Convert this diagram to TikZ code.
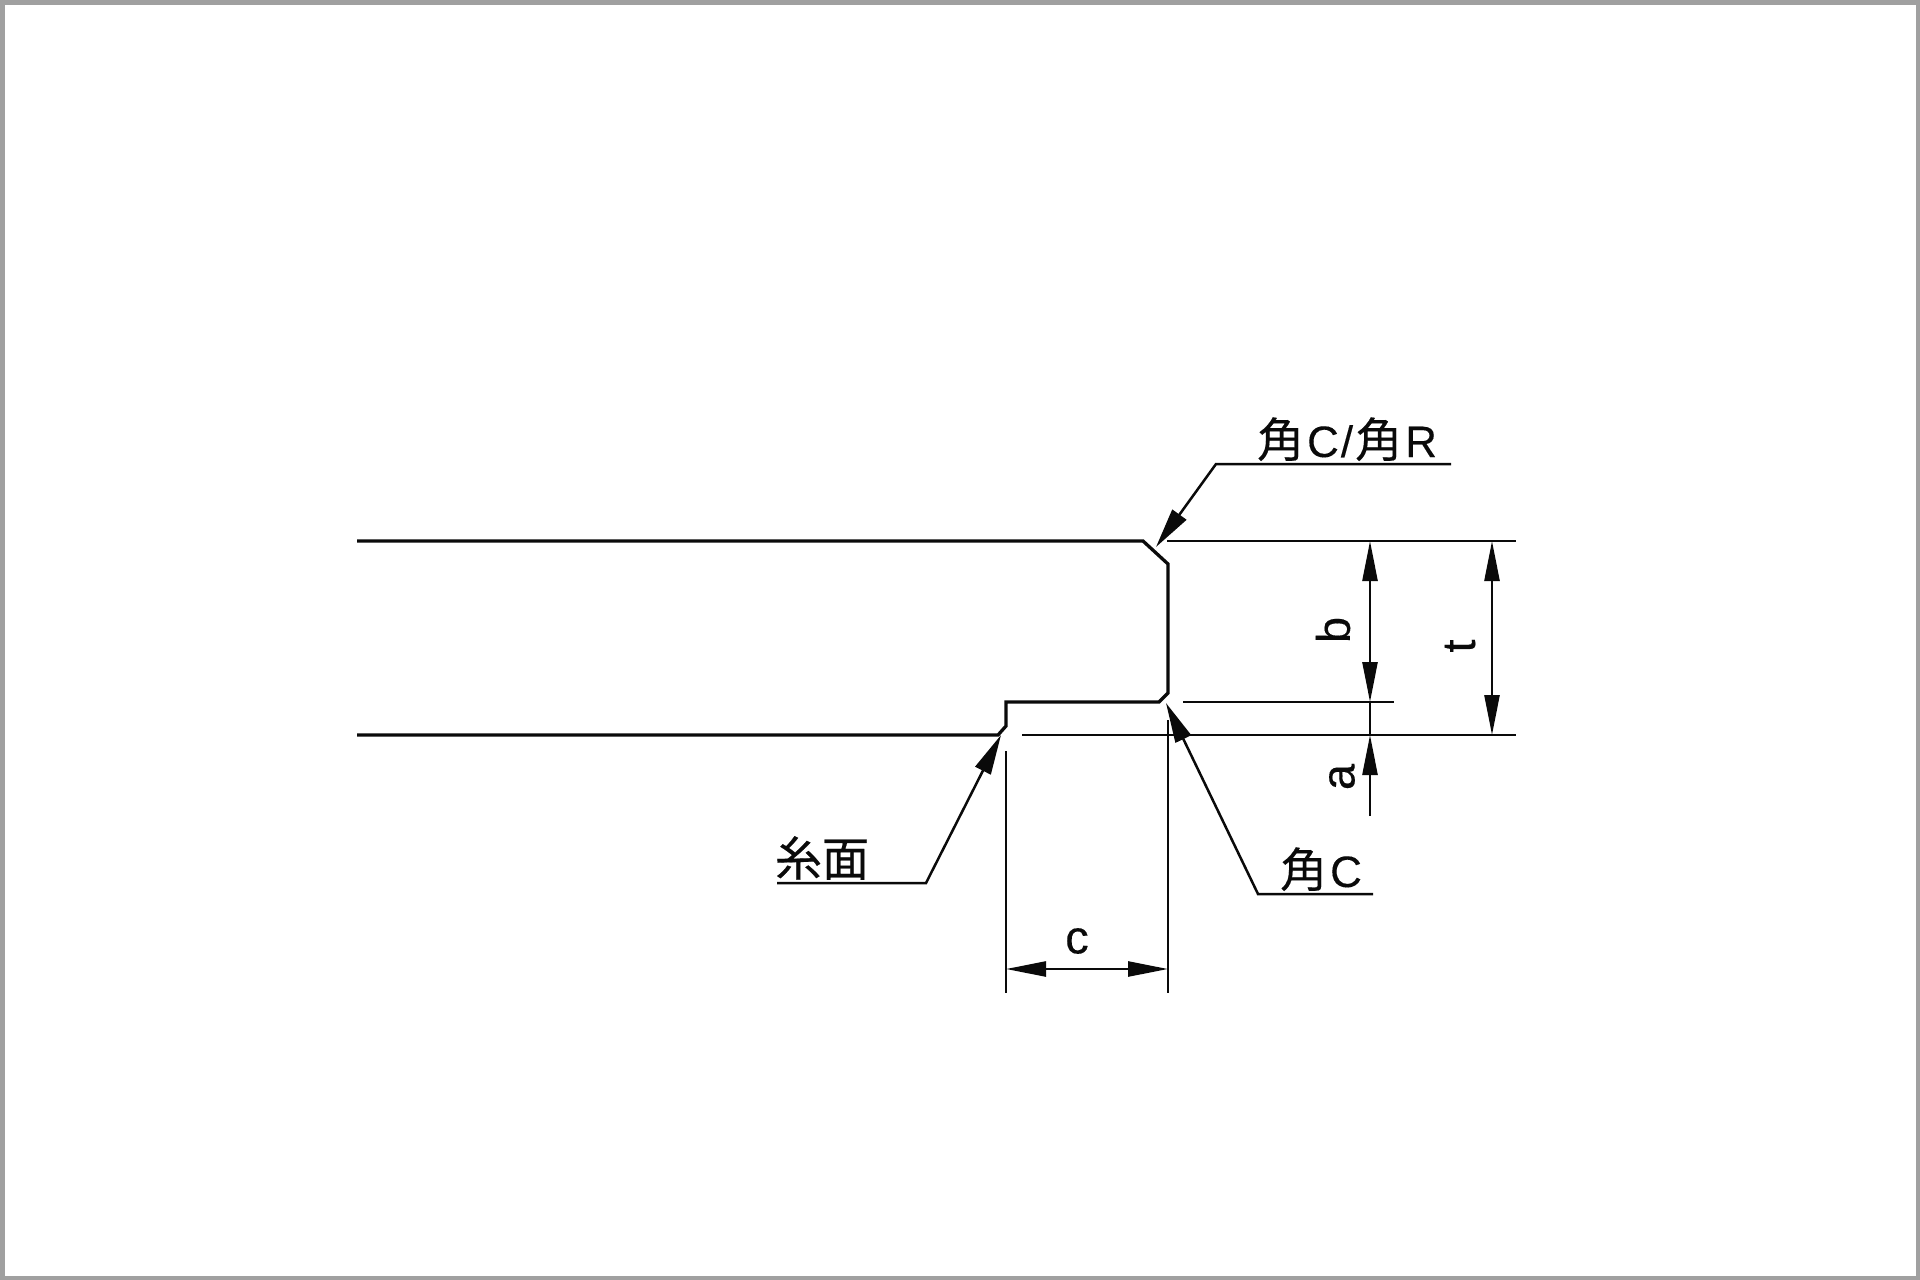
\documentclass[tikz,border=0pt]{standalone}
\usepackage{fontspec}
\setmainfont[FakeBold=0.25]{Liberation Sans}
\newfontfamily\cjk[FakeBold=0.35,Scale=1.07]{Noto Sans CJK JP}
\usetikzlibrary{arrows.meta}
\definecolor{frame}{HTML}{A0A0A0}
\definecolor{ink}{HTML}{0A0A0A}
\newcommand{\gp}{\kern3pt}
\tikzset{
  x=1pt,y=-1pt,
  outline/.style={draw=ink,line width=3.3pt,line join=miter},
  thinline/.style={draw=ink,line width=2.5pt},
  dimline/.style={thinline,{Triangle[length=40pt,width=15pt]}-{Triangle[length=40pt,width=15pt]}},
  oneway/.style={thinline,-{Triangle[length=40pt,width=15pt]}},
  leader/.style={thinline,line join=miter,-{Triangle[length=40pt,width=17pt]}},
  label/.style={inner sep=0pt,outer sep=0pt,anchor=base,text=ink,font=\fontsize{44}{50}\selectfont},
  letter/.style={inner sep=0pt,outer sep=0pt,text=ink,font=\fontsize{47}{50}\selectfont},
}
\begin{document}
\begin{tikzpicture}
\useasboundingbox (0,0) rectangle (1920,1280);
\fill[frame] (0,0) rectangle (1920,1280);
\fill[white] (4.5,4.5) rectangle (1915.5,1275.5);
% reference points
\coordinate (topL) at (357,541);
\coordinate (botL) at (357,735);
\coordinate (topRef) at (1516,541);
\coordinate (topRefL) at (1167,541);
\coordinate (midRefL) at (1183,702);
\coordinate (midRefR) at (1394,702);
\coordinate (botRefL) at (1022,735);
\coordinate (botRefR) at (1516,735);
% part outline
\draw[outline] (topL) -- (1143,541) -- (1168,564) -- (1168,693) -- (1159,702) -- (1006,702) -- (1006,726) -- (998,735) -- (botL);
% extension lines
\draw[thinline] (topRefL) -- (topRef);
\draw[thinline] (midRefL) -- (midRefR);
\draw[thinline] (botRefL) -- (botRefR);
\coordinate (cLtop) at (1006,751);
\coordinate (cLbot) at (1006,993);
\coordinate (cRtop) at (1168,720);
\coordinate (cRbot) at (1168,993);
\draw[thinline] (cLtop) -- (cLbot);
\draw[thinline] (cRtop) -- (cRbot);
% dimensions
\coordinate (bT) at (1370,541);
\coordinate (bB) at (1370,702);
\coordinate (tT) at (1492,541);
\coordinate (tB) at (1492,735);
\coordinate (aT) at (1370,702);
\coordinate (aM) at (1370,735);
\coordinate (aB) at (1370,816);
\coordinate (cL) at (1006,969);
\coordinate (cR) at (1168,969);
\draw[dimline] (bT) -- (bB);
\draw[dimline] (tT) -- (tB);
\draw[oneway] (aB) -- (aM);
\draw[thinline] (aM) -- (aT);
\draw[dimline] (cL) -- (cR);
% leaders
\coordinate (l1end) at (1451,464);
\coordinate (l1knee) at (1216,464);
\coordinate (l1tip) at (1156,547);
\draw[leader] (l1end) -- (l1knee) -- (l1tip);
\coordinate (l2end) at (1373,894);
\coordinate (l2knee) at (1258,894);
\coordinate (l2tip) at (1166,703);
\draw[leader] (l2end) -- (l2knee) -- (l2tip);
\coordinate (l3end) at (777,883);
\coordinate (l3knee) at (926,883);
\coordinate (l3tip) at (1001,735);
\draw[leader] (l3end) -- (l3knee) -- (l3tip);
% labels
\node[label] (lblCR) at (1347,457) {{\cjk 角}\gp C\kern2pt/\kern2pt{\cjk 角}\gp R};
\node[label] (lblC) at (1321,887) {{\cjk 角}\gp C};
\node[label] (lblM) at (822,876) {{\cjk 糸面}};
\node[letter] (lblc) at (1077,941) {c};
\node[letter,rotate=90] (lblb) at (1333,630) {b};
\node[letter,rotate=90] (lbla) at (1342,777) {a};
\node[letter,rotate=90] (lblt) at (1460,646) {t};
\end{tikzpicture}
\end{document}
